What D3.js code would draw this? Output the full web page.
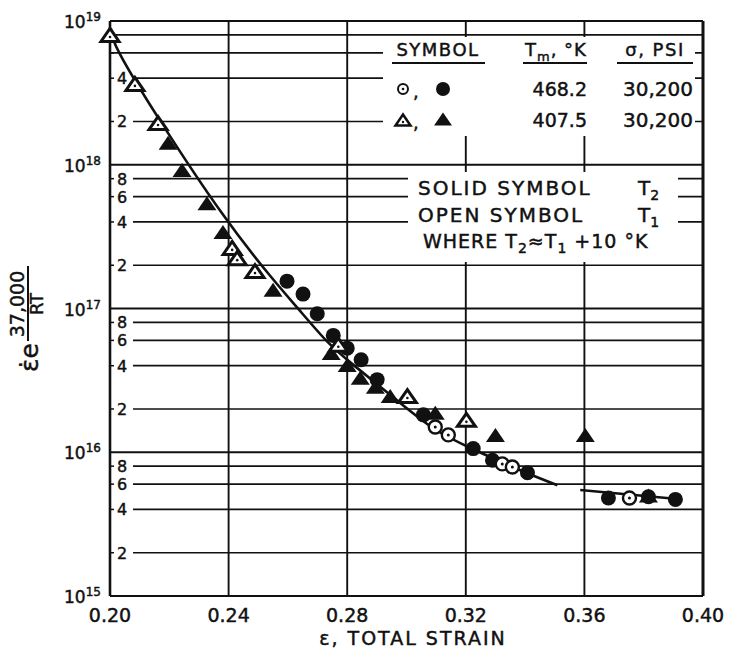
<!DOCTYPE html>
<html>
<head>
<meta charset="utf-8">
<script src="https://cdn.jsdelivr.net/npm/d3@7"></script>
<style>
  body { margin: 0; background: #fff; }
  text { font-family: "DejaVu Sans", sans-serif; fill: #111; stroke: #111; stroke-width: 0.45; }
</style>
</head>
<body>
<script>
// ---- data (strain, value) ----
let openCircles = [[0.3097, 1.5e16], [0.3141, 1.32e16], [0.3323, 8.3e15], [0.3357, 7.9e15], [0.3752, 4.8e15]]
let solidCircles = [[0.2597, 1.55e17], [0.2651, 1.26e17], [0.2699, 9.2e16], [0.2753, 6.5e16], [0.2800, 5.3e16],
    [0.2847, 4.4e16], [0.2901, 3.2e16], [0.3057, 1.82e16], [0.3225, 1.06e16], [0.3290, 8.8e15],
    [0.3408, 7.2e15], [0.3681, 4.8e15], [0.3816, 4.9e15], [0.3907, 4.7e15]]
let openTriangles = [[0.2000, 8.0e18], [0.2084, 3.65e18], [0.2162, 1.95e18], [0.2412, 2.64e17], [0.2429, 2.24e17],
    [0.2489, 1.82e17], [0.2770, 5.6e16], [0.3003, 2.46e16], [0.3202, 1.68e16]]
let solidTriangles = [[0.2196, 1.42e18], [0.2243, 9.2e17], [0.2327, 5.4e17], [0.2381, 3.4e17], [0.2550, 1.35e17],
    [0.2746, 4.9e16], [0.2800, 4.05e16], [0.2844, 3.3e16], [0.2895, 2.85e16], [0.2945, 2.46e16],
    [0.3097, 1.88e16], [0.3300, 1.32e16], [0.3603, 1.32e16], [0.3816, 5.0e15]]
// faired curve, drawn in two pieces (break near 0.355)
let fitA = [[0.2003, 8.9e18], [0.2007, 7.0e18], [0.2165, 2.05e18], [0.2388, 4.13e17],
    [0.2550, 1.58e17], [0.2631, 1.02e17], [0.2733, 5.75e16], [0.2800, 4.38e16], [0.2979, 2.2e16],
    [0.3090, 1.43e16], [0.3205, 1.09e16], [0.3394, 7.3e15], [0.3509, 5.9e15]]
let fitB = [[0.3586, 5.46e15], [0.3914, 4.73e15]]

let xTicks = [0.20, 0.24, 0.28, 0.32, 0.36, 0.40]
let decades = [15, 16, 17, 18, 19]
let minorMult = [2, 4, 6, 8]

let width = 734, height = 660

let svg = d3.select("body").append("svg")
    .attr("width", width)
    .attr("height", height)

let x = d3.scaleLinear().domain([0.20, 0.40]).range([110, 703])
let y = d3.scaleLog().domain([1e15, 1e19]).range([596, 21])

// minor horizontal grid
let minors = []
decades.slice(0, -1).forEach(d => minorMult.forEach(m => minors.push({ d: d, m: m, v: m * Math.pow(10, d) })))

let grid = svg.append("g").attr("stroke", "#111").attr("fill", "none")

grid.selectAll(".minor")
    .data(minors)
    .enter().append("line")
    .attr("class", "minor")
    .attr("x1", d => (d.d == 18 && d.m > 4) ? x(0.20) : x(0.20) + 23)
    .attr("x2", x(0.40))
    .attr("y1", d => y(d.v))
    .attr("y2", d => y(d.v))
    .attr("stroke-width", 1.7)

grid.selectAll(".mtick")
    .data(minors)
    .enter().append("line")
    .attr("x1", x(0.20))
    .attr("x2", x(0.20) + 4)
    .attr("y1", d => y(d.v))
    .attr("y2", d => y(d.v))
    .attr("stroke-width", 1.5)

grid.selectAll(".major")
    .data(decades)
    .enter().append("line")
    .attr("x1", x(0.20))
    .attr("x2", x(0.40))
    .attr("y1", d => y(Math.pow(10, d)))
    .attr("y2", d => y(Math.pow(10, d)))
    .attr("stroke-width", 2.2)

grid.selectAll(".vgrid")
    .data(xTicks)
    .enter().append("line")
    .attr("x1", d => x(d))
    .attr("x2", d => x(d))
    .attr("y1", y(1e19))
    .attr("y2", y(1e15))
    .attr("stroke-width", d => (d == 0.20 || d == 0.40) ? 2.6 : 1.9)

// legend backgrounds knock out the grid
svg.append("rect").attr("x", 383).attr("y", 37).attr("width", 312).attr("height", 99).attr("fill", "#fff")
svg.append("rect").attr("x", 408).attr("y", 172).attr("width", 270).attr("height", 90).attr("fill", "#fff")

// right border again over the boxes
svg.append("line").attr("x1", x(0.40)).attr("x2", x(0.40)).attr("y1", y(1e19)).attr("y2", y(1e15))
    .attr("stroke", "#111").attr("stroke-width", 2.6)

// minor labels inside the plot
svg.selectAll(".mlab")
    .data(minors.filter(d => !(d.d == 18 && d.m > 4)))
    .enter().append("text")
    .attr("x", x(0.20) + 7)
    .attr("y", d => y(d.v) + 6)
    .attr("font-size", 16)
    .text(d => d.m)

// decade labels
let dl = svg.selectAll(".dlab")
    .data(decades)
    .enter().append("text")
    .attr("x", 64)
    .attr("y", d => y(Math.pow(10, d)) + 7)
    .attr("font-size", 17)
dl.append("tspan").text("10")
dl.append("tspan").attr("dy", -7).attr("font-size", 12).text(d => d)

// x tick labels
svg.selectAll(".xlab")
    .data(xTicks)
    .enter().append("text")
    .attr("x", d => x(d))
    .attr("y", 622)
    .attr("text-anchor", "middle")
    .attr("font-size", 19)
    .text(d => d.toFixed(2))

svg.append("text")
    .attr("x", 413)
    .attr("y", 645)
    .attr("text-anchor", "middle")
    .attr("font-size", 19)
    .attr("letter-spacing", 2)
    .text("ε, TOTAL  STRAIN")

// y axis title
let yt = svg.append("g").attr("transform", "translate(0,372) rotate(-90)")
yt.append("text").attr("x", 0).attr("y", 38).attr("font-size", 25).text("ε̇e")
yt.append("text").attr("x", 68).attr("y", 24).attr("text-anchor", "middle").attr("font-size", 19).text("37,000")
yt.append("line").attr("x1", 31).attr("x2", 106).attr("y1", 28).attr("y2", 28).attr("stroke", "#111").attr("stroke-width", 2)
yt.append("text").attr("x", 68).attr("y", 43).attr("text-anchor", "middle").attr("font-size", 18).text("RT")

// fitted curve
let line = d3.line().x(d => x(d[0])).y(d => y(d[1])).curve(d3.curveBasis)
svg.selectAll(".fit")
    .data([fitA, fitB])
    .enter().append("path")
    .attr("d", line)
    .attr("fill", "none")
    .attr("stroke", "#111")
    .attr("stroke-width", 2.6)

// markers
let tri = (w, h) => `M0,${-h / 2}L${w / 2},${h / 2}L${-w / 2},${h / 2}Z`

function drawOpenTri(sel, data, w, h) {
    let g = sel.selectAll(null).data(data).enter().append("g")
        .attr("transform", d => `translate(${x(d[0])},${y(d[1])})`)
    g.append("path").attr("d", tri(w, h)).attr("fill", "#fff").attr("stroke", "#111").attr("stroke-width", 3)
    g.append("circle").attr("cy", 2).attr("r", 1.3).attr("fill", "#111")
}
function drawSolidTri(sel, data, w, h) {
    sel.selectAll(null).data(data).enter().append("path")
        .attr("transform", d => `translate(${x(d[0])},${y(d[1])})`)
        .attr("d", tri(w, h)).attr("fill", "#111")
}
function drawOpenCircle(sel, data, r) {
    let g = sel.selectAll(null).data(data).enter().append("g")
        .attr("transform", d => `translate(${x(d[0])},${y(d[1])})`)
    g.append("circle").attr("r", r).attr("fill", "#fff").attr("stroke", "#111").attr("stroke-width", 2.4)
    g.append("circle").attr("r", 1.5).attr("fill", "#111")
}
function drawSolidCircle(sel, data, r) {
    sel.selectAll(null).data(data).enter().append("circle")
        .attr("cx", d => x(d[0])).attr("cy", d => y(d[1]))
        .attr("r", r).attr("fill", "#111")
}

let marks = svg.append("g")
drawSolidCircle(marks, solidCircles, 7.5)
drawSolidTri(marks, solidTriangles, 19, 14)
drawOpenCircle(marks, openCircles, 6.5)
drawOpenTri(marks, openTriangles, 18, 13)

// legend, top block
let lg = svg.append("g")
let hdr = [[392, 485], [523, 587], [617, 693]]
lg.selectAll(".hdr")
    .data(hdr)
    .enter().append("line")
    .attr("x1", d => d[0]).attr("x2", d => d[1])
    .attr("y1", 63).attr("y2", 63)
    .attr("stroke", "#111").attr("stroke-width", 2)
lg.append("text").attr("x", 438).attr("y", 56).attr("text-anchor", "middle").attr("font-size", 18).attr("letter-spacing", 1.5).text("SYMBOL")
lg.append("text").attr("x", 655).attr("y", 56).attr("text-anchor", "middle").attr("font-size", 18).attr("letter-spacing", 1.5).text("σ, PSI")
let tm = lg.append("text").attr("x", 525).attr("y", 56).attr("font-size", 18).attr("letter-spacing", 1)
tm.append("tspan").text("T")
tm.append("tspan").attr("dy", 5).attr("font-size", 13).text("m")
tm.append("tspan").attr("dy", -5).text(", °K")

let rows = [["468.2", "30,200", 89], ["407.5", "30,200", 120]]
lg.selectAll(".r1")
    .data(rows)
    .enter().append("text")
    .attr("x", 587).attr("y", d => d[2] + 7).attr("text-anchor", "end").attr("font-size", 19)
    .text(d => d[0])
lg.selectAll(".r2")
    .data(rows)
    .enter().append("text")
    .attr("x", 693).attr("y", d => d[2] + 7).attr("text-anchor", "end").attr("font-size", 20)
    .text(d => d[1])
lg.selectAll(".comma")
    .data(rows)
    .enter().append("text")
    .attr("x", 413).attr("y", d => d[2] + 9).attr("font-size", 18)
    .text(",")

let lgx = d3.scaleLinear().domain([0, 1]).range([403, 443])
let lgOpenC = lg.append("g").attr("transform", `translate(${lgx(0)},89)`)
lgOpenC.append("circle").attr("r", 5).attr("fill", "#fff").attr("stroke", "#111").attr("stroke-width", 2)
lgOpenC.append("circle").attr("r", 1.3).attr("fill", "#111")
lg.append("circle").attr("cx", lgx(1)).attr("cy", 89).attr("r", 7).attr("fill", "#111")
lg.append("path").attr("transform", `translate(${lgx(0)},120)`).attr("d", tri(15, 11))
    .attr("fill", "#fff").attr("stroke", "#111").attr("stroke-width", 2.5)
lg.append("circle").attr("cx", lgx(0)).attr("cy", 122).attr("r", 1.2).attr("fill", "#111")
lg.append("path").attr("transform", `translate(${lgx(1)},119)`).attr("d", tri(18, 13)).attr("fill", "#111")

// legend, lower block
let notes = [["SOLID  SYMBOL", "2", 195], ["OPEN  SYMBOL", "1", 222]]
notes.forEach(n => {
    lg.append("text").attr("x", 418).attr("y", n[2]).attr("font-size", 20).attr("letter-spacing", 2).text(n[0])
    let t = lg.append("text").attr("x", 638).attr("y", n[2]).attr("font-size", 20)
    t.append("tspan").text("T")
    t.append("tspan").attr("dy", 5).attr("font-size", 14).text(n[1])
})
let wh = lg.append("text").attr("x", 423).attr("y", 248).attr("font-size", 19).attr("letter-spacing", 1)
wh.append("tspan").text("WHERE  T")
wh.append("tspan").attr("dy", 5).attr("font-size", 14).text("2")
wh.append("tspan").attr("dy", -5).text("≈T")
wh.append("tspan").attr("dy", 5).attr("font-size", 14).text("1")
wh.append("tspan").attr("dy", -5).text(" +10 °K")
</script>
</body>
</html>
